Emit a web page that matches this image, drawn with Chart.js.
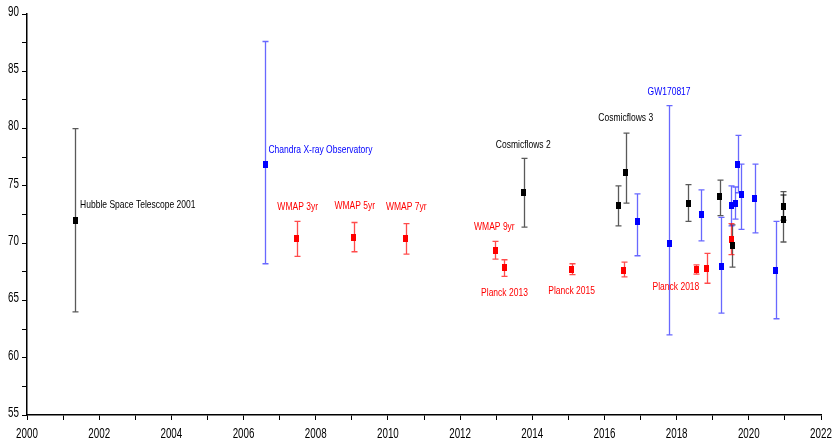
<!DOCTYPE html>
<html>
<head>
<meta charset="utf-8">
<script src="https://cdn.jsdelivr.net/npm/chart.js@4"></script>
<style>
  html, body { margin: 0; padding: 0; background: #fff; }
  canvas { display: block; }
</style>
</head>
<body>
<canvas id="h0Chart" width="836" height="443"></canvas>
<script>
// Hubble constant measurements (km/s/Mpc) by year
const blackYears = [2001.33, 2013.76, 2016.38, 2016.59, 2018.32, 2019.2, 2019.54, 2020.96, 2020.96];
const blackH0    = [72.0, 74.4, 73.3, 76.2, 73.5, 74.1, 69.8, 73.2, 72.1];
const blackLow   = [64.0, 71.4, 71.5, 73.5, 71.9, 72.4, 67.9, 72.0, 70.1];
const blackHigh  = [80.0, 77.4, 75.0, 79.6, 75.1, 75.5, 71.6, 74.5, 74.2];

const blueYears = [2006.6, 2016.91, 2017.79, 2018.68, 2019.24, 2019.52, 2019.63, 2019.7, 2019.79, 2020.17, 2020.75];
const blueH0    = [76.9, 71.9, 70.0, 72.5, 68.0, 73.3, 73.5, 76.85, 74.25, 73.9, 67.6];
const blueLow   = [68.2, 68.9, 62.0, 70.2, 63.9, 71.5, 72.1, 74.4, 71.2, 70.9, 63.4];
const blueHigh  = [87.6, 74.3, 82.0, 74.65, 72.25, 75.0, 74.9, 79.4, 76.9, 76.9, 71.9];

const redYears = [2007.48, 2009.06, 2010.5, 2012.98, 2013.23, 2015.1, 2016.53, 2018.54, 2018.84, 2019.51];
const redH0    = [70.4, 70.5, 70.4, 69.35, 67.85, 67.7, 67.65, 67.7, 67.8, 70.35];
const redLow   = [68.85, 69.25, 69.05, 68.6, 67.1, 67.25, 67.05, 67.3, 66.5, 69.0];
const redHigh  = [71.9, 71.8, 71.7, 70.15, 68.55, 68.2, 68.35, 68.1, 69.1, 71.7];

// annotations: text, year, value, series
const labelText   = ['Hubble Space Telescope 2001', 'Chandra X-ray Observatory', 'WMAP 3yr', 'WMAP 5yr', 'WMAP 7yr',
                     'WMAP 9yr', 'Planck 2013', 'Planck 2015', 'Cosmicflows 2', 'Cosmicflows 3', 'GW170817', 'Planck 2018'];
const labelYears  = [2003.07, 2008.13, 2007.5, 2009.08, 2010.51, 2012.95, 2013.23, 2015.09, 2013.75, 2016.59, 2017.79, 2017.98];
const labelValues = [73.33, 78.13, 73.18, 73.24, 73.15, 71.44, 65.67, 65.85, 78.57, 80.9, 83.22, 66.2];
const labelSeries = ['black', 'blue', 'red', 'red', 'red', 'red', 'red', 'red', 'black', 'black', 'blue', 'red'];

const FONT = '"Liberation Sans", Arial, sans-serif';
const colors = { black: '#000000', blue: '#0000ff', red: '#ff0000' };
const barColors = { black: 'rgba(0,0,0,0.65)', blue: 'rgba(40,40,255,0.7)', red: 'rgba(255,0,0,0.7)' };

// small upright rectangle used as the marker
function marker(color) {
    const c = document.createElement('canvas');
    c.width = 5;
    c.height = 7;
    const g = c.getContext('2d');
    g.fillStyle = color;
    g.fillRect(0, 0, 5, 7);
    return c;
}

function makeSet(name, xs, ys, lo, hi) {
    return {
        label: name,
        data: xs.map((x, i) => ({ x: x, y: ys[i] })),
        errLow: lo,
        errHigh: hi,
        barColor: barColors[name],
        pointStyle: marker(colors[name]),
        backgroundColor: colors[name],
        borderColor: colors[name],
        showLine: false
    };
}

// the original uses a condensed face, so squeeze text horizontally
function narrowText(ctx, text, x, y, sx) {
    ctx.save();
    ctx.translate(x, y);
    ctx.scale(sx, 1);
    ctx.fillText(text, 0, 0);
    ctx.restore();
}

const errorBars = {
    id: 'errorBars',
    beforeDatasetsDraw(chart) {
        const { ctx, scales: { x, y } } = chart;
        ctx.save();
        chart.data.datasets.forEach(ds => {
            ctx.strokeStyle = ds.barColor;
            ctx.lineWidth = 1.3;
            ds.data.forEach((p, i) => {
                const px = Math.round(x.getPixelForValue(p.x)) + 0.5;
                const top = y.getPixelForValue(ds.errHigh[i]);
                const bot = y.getPixelForValue(ds.errLow[i]);
                ctx.beginPath();
                ctx.moveTo(px, top);
                ctx.lineTo(px, bot);
                ctx.moveTo(px - 3, top);
                ctx.lineTo(px + 3, top);
                ctx.moveTo(px - 3, bot);
                ctx.lineTo(px + 3, bot);
                ctx.stroke();
            });
        });
        ctx.restore();
    }
};

const annotations = {
    id: 'annotations',
    afterDatasetsDraw(chart) {
        const { ctx, scales: { x, y } } = chart;
        ctx.save();
        ctx.font = '10.5px ' + FONT;
        ctx.textAlign = 'center';
        ctx.textBaseline = 'middle';
        labelText.forEach((t, i) => {
            ctx.fillStyle = colors[labelSeries[i]];
            narrowText(ctx, t, x.getPixelForValue(labelYears[i]), y.getPixelForValue(labelValues[i]), 0.81);
        });
        ctx.restore();
    }
};

// tick labels taken from the scales' own ticks
const tickLabels = {
    id: 'tickLabels',
    afterDraw(chart) {
        const { ctx, scales: { x, y } } = chart;
        ctx.save();
        ctx.font = '14px ' + FONT;
        ctx.fillStyle = '#000';
        ctx.textBaseline = 'middle';
        ctx.textAlign = 'right';
        y.ticks.forEach(t => {
            if (t.value % 5 === 0) narrowText(ctx, String(t.value), y.left + 19, y.getPixelForValue(t.value) - 2, 0.7);
        });
        ctx.textAlign = 'center';
        x.ticks.forEach(t => {
            if (t.value % 2 === 0) narrowText(ctx, String(t.value), x.getPixelForValue(t.value), x.top + 19, 0.7);
        });
        ctx.restore();
    }
};

const ctx = document.getElementById('h0Chart').getContext('2d');
new Chart(ctx, {
    type: 'scatter',
    data: {
        datasets: [
            makeSet('black', blackYears, blackH0, blackLow, blackHigh),
            makeSet('blue', blueYears, blueH0, blueLow, blueHigh),
            makeSet('red', redYears, redH0, redLow, redHigh)
        ]
    },
    options: {
        responsive: false,
        animation: false,
        layout: { padding: { top: 14, right: 15, left: 0, bottom: 0 } },
        plugins: {
            legend: { display: false },
            tooltip: { enabled: false }
        },
        scales: {
            x: {
                type: 'linear',
                min: 2000,
                max: 2022,
                afterFit: s => { s.height = 28; },
                border: { color: '#000', width: 1.5 },
                grid: { drawOnChartArea: false, color: '#000', tickLength: 5 },
                ticks: { stepSize: 1, autoSkip: false, maxRotation: 0, display: false }
            },
            y: {
                min: 55,
                max: 90,
                afterFit: s => { s.width = 27; },
                border: { color: '#000', width: 1.5 },
                grid: { drawOnChartArea: false, color: '#000', tickLength: 5 },
                ticks: { stepSize: 2.5, autoSkip: false, display: false }
            }
        }
    },
    plugins: [errorBars, annotations, tickLabels]
});
</script>
</body>
</html>
